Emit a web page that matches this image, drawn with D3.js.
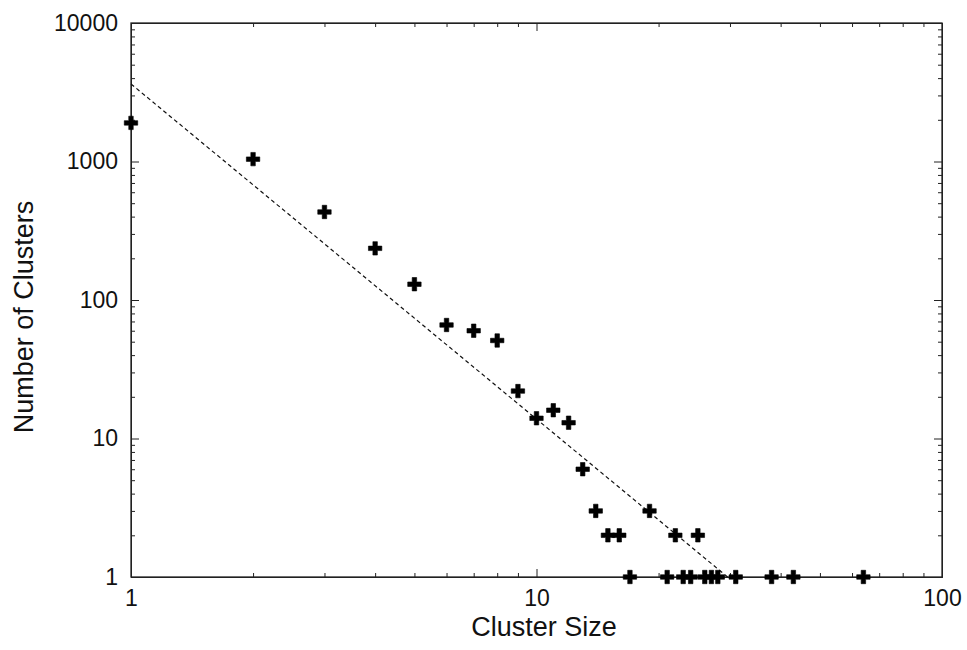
<!DOCTYPE html>
<html>
<head>
<meta charset="utf-8">
<script src="https://cdn.jsdelivr.net/npm/d3@7"></script>
<style>
  body { margin: 0; background: #fff; }
  text { font-family: "Liberation Sans", Arial, sans-serif; fill: #111; }
  .axis path, .axis line { stroke: #222; }
</style>
</head>
<body>
<div id="chart"></div>
<script>
// cluster sizes and how many clusters of each size
const clusterSizes = [1, 2, 3, 4, 5, 6, 7, 8, 9, 10, 11, 12, 13, 14, 15, 16, 17, 19,
                      21, 22, 23, 24, 25, 26, 27, 28, 31, 38, 43, 64];
const clusterCounts = [1900, 1040, 432, 236, 130, 66, 60, 51, 22, 14, 16, 13, 6, 3, 2, 2, 1, 3,
                       1, 2, 1, 1, 2, 1, 1, 1, 1, 1, 1, 1];

// fitted power law, drawn between these two ends
const fitSizes = [1, 29.6];
const fitCounts = [3630, 1];

const xMajor = [1, 10, 100];
const yMajor = [1, 10, 100, 1000, 10000];

// graph stuff
const W = 967, H = 650;
const margin = {top: 23, right: 25, bottom: 73, left: 131};

const svg = d3.select("#chart")
    .append("svg")
    .attr("width", W)
    .attr("height", H);

const x = d3.scaleLog()
    .domain([1, 100])
    .range([margin.left, W - margin.right]);

const y = d3.scaleLog()
    .domain([1, 10000])
    .range([H - margin.bottom, margin.top]);

// minor ticks are every integer multiple inside a decade
function minorTicks(scale) {
    return scale.ticks().filter(v => !xMajor.includes(v) && !yMajor.includes(v));
}
const xMinor = minorTicks(x);
const yMinor = minorTicks(y);

const x0 = x.range()[0], x1 = x.range()[1];
const y0 = y.range()[0], y1 = y.range()[1];

// bottom axis, ticks point inward
svg.append("g")
    .attr("class", "axis")
    .attr("transform", `translate(0,${y0})`)
    .call(d3.axisBottom(x).tickValues(xMajor).tickFormat(d3.format("d"))
        .tickSizeInner(-8).tickSizeOuter(0).tickPadding(13))
    .call(g => g.selectAll("text").style("font-size", "23px"));
svg.append("g")
    .attr("class", "axis")
    .attr("transform", `translate(0,${y0})`)
    .call(d3.axisBottom(x).tickValues(xMinor).tickFormat("").tickSizeInner(-4).tickSizeOuter(0));

// top mirror
svg.append("g")
    .attr("class", "axis")
    .attr("transform", `translate(0,${y1})`)
    .call(d3.axisTop(x).tickValues(xMajor).tickFormat("").tickSizeInner(-8).tickSizeOuter(0));
svg.append("g")
    .attr("class", "axis")
    .attr("transform", `translate(0,${y1})`)
    .call(d3.axisTop(x).tickValues(xMinor).tickFormat("").tickSizeInner(-4).tickSizeOuter(0));

// left axis
svg.append("g")
    .attr("class", "axis")
    .attr("transform", `translate(${x0},0)`)
    .call(d3.axisLeft(y).tickValues(yMajor).tickFormat(d3.format("d"))
        .tickSizeInner(-8).tickSizeOuter(0).tickPadding(13))
    .call(g => g.selectAll("text").style("font-size", "23px"));
svg.append("g")
    .attr("class", "axis")
    .attr("transform", `translate(${x0},0)`)
    .call(d3.axisLeft(y).tickValues(yMinor).tickFormat("").tickSizeInner(-4).tickSizeOuter(0));

// right mirror
svg.append("g")
    .attr("class", "axis")
    .attr("transform", `translate(${x1},0)`)
    .call(d3.axisRight(y).tickValues(yMajor).tickFormat("").tickSizeInner(-8).tickSizeOuter(0));
svg.append("g")
    .attr("class", "axis")
    .attr("transform", `translate(${x1},0)`)
    .call(d3.axisRight(y).tickValues(yMinor).tickFormat("").tickSizeInner(-4).tickSizeOuter(0));

// frame
svg.append("rect")
    .attr("x", x0).attr("y", y1)
    .attr("width", x1 - x0).attr("height", y0 - y1)
    .attr("fill", "none")
    .attr("stroke", "#222")
    .attr("stroke-width", 1.3);

// fit line
const fitData = fitSizes.map((s, i) => ({s: s, c: fitCounts[i]}));
svg.append("path")
    .datum(fitData)
    .attr("fill", "none")
    .attr("stroke", "#111")
    .attr("stroke-width", 1.2)
    .attr("stroke-dasharray", "4,3")
    .attr("d", d3.line().x(d => x(d.s)).y(d => y(d.c)));

// the points
const pts = clusterSizes.map((s, i) => ({s: s, c: clusterCounts[i]}));
svg.selectAll(".pt")
    .data(pts)
    .enter()
    .append("path")
        .attr("class", "pt")
        .attr("d", d3.symbol(d3.symbolCross, 100))
        .attr("transform", d => `translate(${x(d.s)},${y(d.c)})`)
        .attr("fill", "#000")
        .attr("stroke", "#000")
        .attr("stroke-width", 0.6)
        .attr("stroke-linejoin", "round");

// axis titles
svg.append("text")
    .attr("text-anchor", "middle")
    .attr("x", 544)
    .attr("y", 636)
    .style("font-size", "27px")
    .text("Cluster Size");

svg.append("text")
    .attr("text-anchor", "middle")
    .attr("transform", `translate(33,317) rotate(-90)`)
    .style("font-size", "27px")
    .text("Number of Clusters");
</script>
</body>
</html>
